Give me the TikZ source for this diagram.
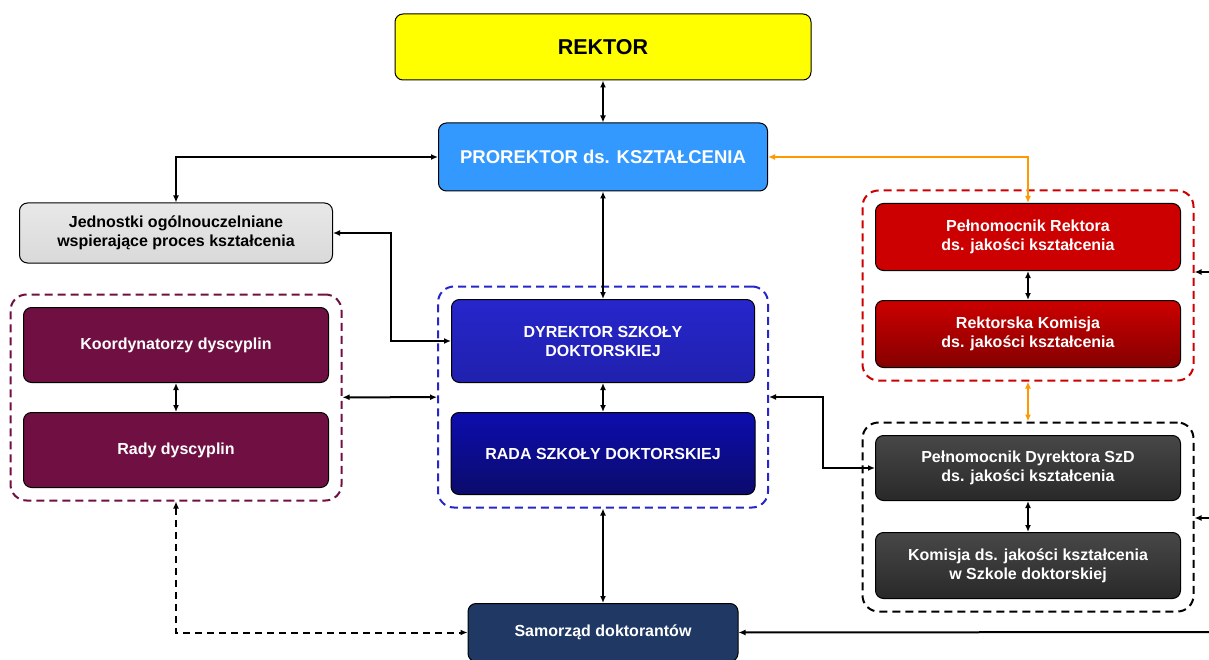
\documentclass[tikz,border=0pt]{standalone}
\usepackage{fontspec}
\setmainfont{Liberation Sans}
\usetikzlibrary{arrows.meta,fit}
\definecolor{zolty}{HTML}{FFFF00}
\definecolor{niebieski}{HTML}{3399FF}
\definecolor{szary}{HTML}{D9D9D9}
\definecolor{bordo}{HTML}{701042}
\definecolor{fiolet}{HTML}{2626CC}
\definecolor{fioletc}{HTML}{10109A}
\definecolor{czerwony}{HTML}{CC0000}
\definecolor{grafit}{HTML}{333333}
\definecolor{granat}{HTML}{1F3864}
\definecolor{pomarancz}{HTML}{FF9900}
\begin{document}
\begin{tikzpicture}[x=1pt,y=-1pt,
    box/.style={draw=black,line width=1pt,rounded corners=8pt,align=center,
        text=white,font=\fontsize{16}{19}\selectfont\bfseries,
        minimum width=305pt,minimum height=67pt},
    grupa/.style={draw,line width=2pt,dash pattern=on 8pt off 5pt,
        rounded corners=16pt,inner sep=12.5pt},
    dbl/.style={line width=2pt,{Latex[length=7pt,width=6pt]}-{Latex[length=7pt,width=6pt]}},
    jed/.style={line width=2pt,-{Latex[length=7pt,width=6pt]}}]
    \useasboundingbox (0,0) rectangle (1209,660);
    % gora: rektor i prorektor
    \node[box,fill=zolty,text=black,minimum width=416pt,minimum height=66pt,
        font=\fontsize{21.5}{24}\selectfont\bfseries] (rektor) at (603,47) {REKTOR};
    \node[box,fill=niebieski,minimum width=329pt,minimum height=68pt,
        font=\fontsize{18.5}{22}\selectfont\bfseries] (prorektor) at (603,157) {PROREKTOR ds. KSZTAŁCENIA};
    % lewa kolumna
    \node[box,top color=szary!60,bottom color=szary,text=black,minimum width=313pt,
        minimum height=60pt] (jedn) at (176,233) {Jednostki ogólnouczelniane\\wspierające proces kształcenia};
    \node[box,fill=bordo,minimum height=75pt] (koord) at (176,345) {Koordynatorzy dyscyplin};
    \node[box,fill=bordo,minimum height=75pt] (rady) at (176,450) {Rady dyscyplin};
    % szkola doktorska
    \node[box,top color=fiolet,bottom color=fiolet!85!black,minimum width=303pt,
        minimum height=83pt] (dyrektor) at (603,341) {DYREKTOR SZKOŁY\\DOKTORSKIEJ};
    \node[box,top color=fioletc!80!blue,bottom color=fioletc!70!black,minimum width=304pt,
        minimum height=82pt] (rada) at (603,453.5) {RADA SZKOŁY DOKTORSKIEJ};
    % prawa kolumna
    \node[box,fill=czerwony] (pelrek) at (1028,237) {Pełnomocnik Rektora\\ds. jakości kształcenia};
    \node[box,top color=czerwony,bottom color=czerwony!65!black] (komrek) at (1028,334) {Rektorska Komisja\\ds. jakości kształcenia};
    \node[box,top color=grafit!90!white,bottom color=grafit!80!black,minimum height=65pt] (peldyr) at (1028,468) {Pełnomocnik Dyrektora SzD\\ds. jakości kształcenia};
    \node[box,top color=grafit!90!white,bottom color=grafit!80!black,minimum height=66pt] (komdyr) at (1028,565.5) {Komisja ds. jakości kształcenia\\w Szkole doktorskiej};
    % dol
    \node[box,fill=granat,minimum width=270pt,minimum height=58pt] (samorzad) at (603,632.5) {Samorząd doktorantów};
    % ramki przerywane
    \node[grupa,draw=bordo,fit=(koord)(rady)] (grpbordo) {};
    \node[grupa,draw=fiolet,fit=(dyrektor)(rada)] (grpfiolet) {};
    \node[grupa,draw=czerwony,fit=(pelrek)(komrek)] (grpczerw) {};
    \node[grupa,draw=black,fit=(peldyr)(komdyr)] (grpczarna) {};
    % polaczenia
    \draw[dbl] (rektor) -- (prorektor);
    \draw[dbl] (jedn.north) |- (prorektor.west);
    \draw[dbl] (prorektor) -- (dyrektor);
    \draw[dbl,pomarancz] (prorektor.east) -| (pelrek.north);
    \draw[dbl] (pelrek) -- (komrek);
    \draw[dbl,pomarancz] (grpczerw) -- (grpczarna);
    \draw[dbl] (peldyr) -- (komdyr);
    \draw[dbl] (jedn.east) -- ++(58,0) |- (dyrektor.west);
    \draw[dbl] (koord) -- (rady);
    \draw[dbl] (dyrektor) -- (rada);
    \draw[dbl] (grpbordo) -- (grpfiolet);
    \draw[dbl] (grpfiolet.east) -- ++(54,0) |- (peldyr.west);
    \draw[dbl] (grpfiolet) -- (samorzad);
    \draw[dbl,dash pattern=on 7pt off 5pt] (grpbordo.south) |- (samorzad.west);
    % strzalki z prawej krawedzi
    \coordinate (wejA) at (1209,272);
    \coordinate (wejB) at (1209,518);
    \coordinate (wejC) at (1209,632);
    \draw[jed] (wejA) -- (grpczerw.east |- wejA);
    \draw[jed] (wejB) -- (grpczarna.east |- wejB);
    \draw[jed] (wejC) -- (samorzad.east);
\end{tikzpicture}
\end{document}
